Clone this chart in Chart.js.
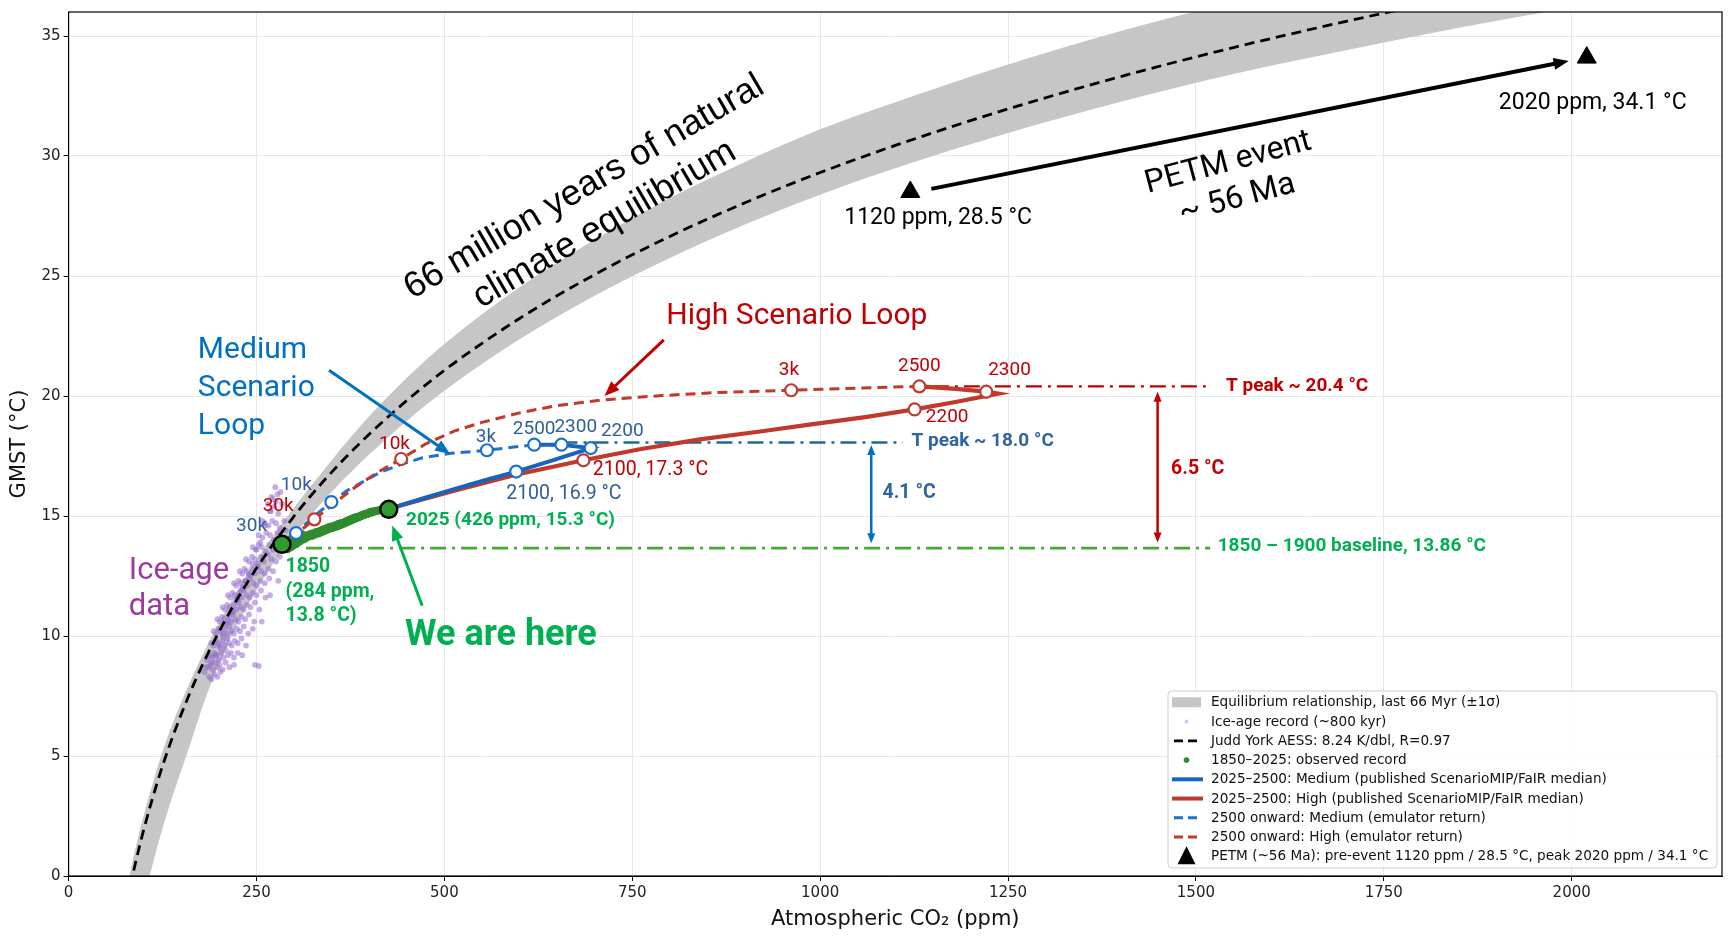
<!DOCTYPE html>
<html>
<head>
<meta charset="utf-8">
<script src="https://cdn.jsdelivr.net/npm/chart.js@4.4.1/dist/chart.umd.min.js"></script>
<style>
  html, body { margin: 0; padding: 0; background: #fff; }
  #wrap { width: 1734px; height: 940px; }
</style>
</head>
<body>
<div id="wrap"><canvas id="myChart" width="1734" height="940"></canvas></div>
<script>
// equilibrium band (last 66 Myr, +-1 sigma)
const bandCo2 = [80, 90, 100, 110, 125, 140, 160, 180, 200, 225, 250, 280, 320, 340, 360, 380, 400, 450, 500, 600, 700, 800, 900, 1000, 1100, 1250, 1400, 1550, 1700, 1850, 2000, 2200];
const bandUpper = [-0.12, 1.28, 2.53, 3.66, 5.19, 6.48, 7.97, 9.32, 10.52, 11.92, 13.17, 14.52, 16.16, 16.93, 17.71, 18.45, 19.16, 20.76, 22.17, 24.53, 26.51, 28.25, 29.75, 31.11, 32.24, 33.81, 35.21, 36.42, 37.56, 38.62, 39.54, 40.68];
const bandLower = [-3.72, -2.32, -1.02, 0.26, 1.99, 3.48, 5.32, 7.22, 8.82, 10.52, 11.92, 13.37, 14.96, 15.66, 16.34, 16.96, 17.56, 18.96, 20.22, 22.36, 24.18, 25.75, 27.15, 28.39, 29.49, 30.96, 32.26, 33.42, 34.41, 35.34, 36.19, 37.28];

// Judd York AESS line
const juddCo2 = [82, 90, 100, 110, 125, 140, 160, 180, 200, 225, 250, 280, 320, 360, 400, 450, 500, 600, 700, 800, 900, 1000, 1100, 1250, 1400, 1550, 1700, 1850];
const juddT = [-0.43, 0.68, 1.93, 3.06, 4.59, 5.93, 7.52, 8.92, 10.17, 11.57, 12.82, 14.17, 15.76, 17.16, 18.41, 19.81, 21.07, 23.23, 25.06, 26.65, 28.05, 29.31, 30.44, 31.96, 33.31, 34.52, 35.61, 36.62];

// ice-age record (~800 kyr)
const iceCo2 = [187, 190, 194, 198, 202,
  186, 189, 192, 195, 198, 201, 205, 209, 214, 220, 248,
  188, 191, 194, 197, 200, 203, 206, 209, 212, 216, 220, 225, 231,
  190, 193, 196, 199, 202, 205, 208, 211, 214, 217, 221, 225, 230, 236,
  193, 196, 199, 202, 205, 208, 211, 214, 217, 220, 224, 228, 233, 239, 245,
  198, 201, 204, 207, 210, 213, 216, 219, 222, 226, 230, 235, 240, 247, 257,
  205, 208, 211, 214, 217, 220, 223, 226, 229, 233, 237, 242, 248, 254,
  212, 215, 218, 221, 224, 227, 230, 233, 237, 241, 245, 250, 256, 262, 268,
  220, 223, 226, 229, 232, 235, 238, 242, 246, 250, 255, 261, 267, 279,
  228, 231, 234, 237, 240, 244, 248, 252, 256, 261, 266, 272,
  236, 240, 244, 248, 252, 256, 260, 265, 270, 276, 281,
  245, 249, 253, 257, 262, 267, 272, 277, 283, 288,
  253, 258, 263, 268, 273, 278, 284, 289,
  261, 266, 271, 276, 281, 287,
  269, 274, 279, 284, 272, 278, 282, 276,
  181, 183, 184, 190, 195, 200, 206, 212, 218, 225, 230, 235, 240, 245, 250, 255, 258, 262, 265, 268, 270, 275, 253];
const iceT = [8.3, 8.2, 8.4, 8.3, 8.5,
  8.7, 8.8, 8.6, 8.9, 8.7, 8.8, 8.6, 8.9, 8.7, 8.8, 8.8,
  9.2, 9.1, 9.3, 9.2, 9.0, 9.3, 9.1, 9.4, 9.2, 9.3, 9.1, 9.3, 9.2,
  9.7, 9.6, 9.8, 9.7, 9.5, 9.8, 9.6, 9.9, 9.7, 9.6, 9.8, 9.7, 9.9, 9.6,
  10.2, 10.1, 10.3, 10.2, 10.0, 10.3, 10.1, 10.4, 10.2, 10.1, 10.3, 10.2, 10.4, 10.1, 10.3,
  10.7, 10.6, 10.8, 10.7, 10.5, 10.8, 10.6, 10.9, 10.7, 10.6, 10.8, 10.7, 10.9, 10.6, 10.6,
  11.2, 11.1, 11.3, 11.2, 11.0, 11.3, 11.1, 11.4, 11.2, 11.1, 11.3, 11.2, 11.4, 11.1,
  11.7, 11.6, 11.8, 11.7, 11.5, 11.8, 11.6, 11.9, 11.7, 11.6, 11.8, 11.7, 11.9, 11.6, 11.7,
  12.2, 12.1, 12.3, 12.2, 12.0, 12.3, 12.1, 12.4, 12.2, 12.1, 12.3, 12.2, 12.4, 12.3,
  12.7, 12.6, 12.8, 12.7, 12.5, 12.8, 12.6, 12.9, 12.7, 12.6, 12.8, 12.7,
  13.2, 13.1, 13.3, 13.2, 13.0, 13.3, 13.1, 13.4, 13.2, 13.1, 13.3,
  13.7, 13.6, 13.8, 13.7, 13.5, 13.8, 13.6, 13.9, 13.7, 13.6,
  14.2, 14.1, 14.3, 14.2, 14.0, 14.3, 14.1, 14.4,
  14.7, 14.6, 14.8, 14.7, 14.5, 14.8,
  15.2, 15.4, 15.1, 15.5, 15.7, 15.9, 16.0, 15.6,
  8.5, 8.7, 9.0, 8.9, 9.2, 9.6, 10.1, 10.6, 11.0, 11.6, 11.9, 12.3, 12.6, 13.0, 13.6, 13.9, 14.8, 14.6, 15.5, 15.2, 15.8, 16.2, 8.75];

// 1850-2025 observed record
const obsCo2 = [285, 285.4, 285.8, 286.2, 286.6, 287, 287.4, 287.8, 288.2, 288.6, 289, 289.4, 289.8, 290.2, 290.6, 291, 291.4, 291.8, 292.2, 292.6, 293, 293.4, 293.8, 294.2, 294.6, 295, 295.4, 295.8, 296.2, 296.6, 297, 297.4, 297.8, 298.2, 298.6, 299, 299.4, 299.8, 300.2, 300.6, 301, 301.4, 301.8, 302.2, 302.6, 303, 303.5, 304, 304.5, 305, 305.5, 306, 306.5, 307, 307.5, 308, 308.5, 309, 310, 311,
  312, 313.5, 315, 316.5, 318, 319.5, 321, 322.5, 324, 325.5, 327, 328.5, 330, 331.5, 333, 334.5, 336, 337.5, 339, 340.5, 342, 343.5, 345, 346.5, 348, 349.5, 351, 352.5, 354, 355.5, 357, 358.5, 360, 361.5, 363, 364.5, 366, 367.5, 369, 370.5, 372, 373.5, 375, 376.5, 378, 379.5, 381, 382.5, 384, 385.5, 387, 388.5, 390, 391.5, 393, 394.5, 396, 397.5, 399, 400.5, 402, 403.5, 405, 406.5, 408, 409.5, 411, 412.5, 414, 415.5, 417, 418.5, 420, 421.5, 423, 424.5, 426];
const obsT = [13.75, 13.62, 13.90, 13.70, 13.58, 13.84, 13.96, 13.66, 13.78, 13.60, 13.92, 13.72, 13.86, 13.64, 14.00, 13.76, 13.58, 13.88, 13.70, 13.98, 13.80, 13.62, 13.94, 13.74, 14.06, 13.84, 13.66, 13.98, 13.78, 14.10, 13.88, 13.70, 14.02, 13.82, 14.14, 13.92, 13.74, 14.06, 13.86, 14.16, 13.96, 13.78, 14.08, 13.90, 14.20, 13.98, 13.80, 14.12, 13.94, 14.22, 14.02, 13.86, 14.16, 13.98, 14.26, 14.06, 13.92, 14.18, 14.04, 14.28,
  13.98, 14.16, 14.02, 14.22, 14.08, 14.26, 14.12, 14.30, 14.14, 14.32, 14.18, 14.36, 14.22, 14.38, 14.24, 14.42, 14.28, 14.46, 14.32, 14.50, 14.36, 14.54, 14.40, 14.58, 14.44, 14.60, 14.46, 14.62, 14.50, 14.66, 14.52, 14.70, 14.56, 14.74, 14.60, 14.76, 14.64, 14.80, 14.68, 14.84, 14.72, 14.88, 14.76, 14.92, 14.80, 14.96, 14.84, 15.00, 14.88, 15.02, 14.92, 15.06, 14.96, 15.10, 15.00, 15.12, 15.04, 15.16, 15.06, 15.20, 15.10, 15.22, 15.12, 15.24, 15.16, 15.26, 15.18, 15.28, 15.20, 15.30, 15.24, 15.32, 15.26, 15.34, 15.27, 15.32, 15.28];

// 2025-2500 published pathways
const medCo2 = [426, 470, 513, 555, 595.6, 645, 694.7, 655.8, 619.5];
const medT = [15.30, 15.72, 16.12, 16.50, 16.85, 17.33, 17.83, 17.97, 17.97];
const highCo2 = [426, 513, 595, 685, 760, 840, 920, 988, 1060, 1125.7, 1180, 1237, 1221, 1180, 1132];
const highT = [15.30, 16.05, 16.72, 17.32, 17.78, 18.19, 18.52, 18.82, 19.12, 19.44, 19.75, 20.10, 20.18, 20.30, 20.40];

// 2500 onward emulator return
const medRetCo2 = [619.5, 590, 556.6, 508.8, 470, 442.5, 415, 393.8, 370, 349.6, 325, 302.7, 288];
const medRetT = [17.97, 17.86, 17.74, 17.61, 17.42, 17.15, 16.83, 16.46, 16.05, 15.58, 14.95, 14.29, 13.90];
const highRetCo2 = [1132, 1050, 961.5, 867, 790, 712, 650, 601.8, 550, 513, 475, 442.5, 410, 380.5, 350, 327, 305, 288];
const highRetT = [20.40, 20.33, 20.24, 20.15, 20.02, 19.84, 19.60, 19.31, 18.90, 18.54, 18.00, 17.375, 16.80, 16.18, 15.45, 14.86, 14.30, 13.90];

// labelled years on each loop
const medMarkCo2 = [302.7, 349.6, 556.6, 619.5, 655.8, 694.7, 595.6];
const medMarkT = [14.29, 15.58, 17.74, 17.97, 17.97, 17.83, 16.85];
const highMarkCo2 = [327, 442.5, 961.5, 1132, 1221, 1125.7, 685];
const highMarkT = [14.86, 17.375, 20.24, 20.40, 20.18, 19.44, 17.32];

const endCo2 = [284, 426];
const endT = [13.82, 15.28];
const petmCo2 = [1120, 2020];
const petmT = [28.5, 34.1];

const medPeak = 18.06, highPeak = 20.40, baseT = 13.66;
const medPeakSpan = [655.8, 1110];
const highPeakSpan = [1150, 1519];
const baseSpan = [316, 1519];

const xTicks = [0, 250, 500, 750, 1000, 1250, 1500, 1750, 2000];
const yTicks = [0, 5, 10, 15, 20, 25, 30, 35];

function pts(xs, ys) { return xs.map((v, i) => ({ x: v, y: ys[i] })); }

const AX = '"DejaVu Sans", sans-serif';
const AN = 'Roboto, "Noto Sans", sans-serif';
const BLUE = '#1565c0', RED = '#c0392b', GREEN = '#00b050';

// annotation texts, anchored in data units
const texts = [
  { t: '66 million years of natural', x: 686, y: 28.7, c: '#000', f: '36px "Liberation Sans", Arial, sans-serif', al: 'center', rot: -30.4 },
  { t: 'climate equilibrium', x: 713, y: 27.15, c: '#000', f: '36px "Liberation Sans", Arial, sans-serif', al: 'center', rot: -30.4 },
  { t: 'PETM event', x: 1543, y: 29.7, c: '#000', f: '32px ' + AN, al: 'center', rot: -15 },
  { t: '~ 56 Ma', x: 1555, y: 28.2, c: '#000', f: '32px ' + AN, al: 'center', rot: -15 },
  { t: '1120 ppm, 28.5 °C', x: 1157, y: 27.4, c: '#000', f: '23px ' + AN, al: 'center' },
  { t: '2020 ppm, 34.1 °C', x: 2028, y: 32.2, c: '#000', f: '23px ' + AN, al: 'center' },
  { t: 'High Scenario Loop', x: 969, y: 23.3, c: '#c00000', f: '30px ' + AN, al: 'center' },
  { t: 'Medium', x: 172, y: 21.9, c: '#0070c0', f: '30px ' + AN, al: 'left' },
  { t: 'Scenario', x: 172, y: 20.32, c: '#0070c0', f: '30px ' + AN, al: 'left' },
  { t: 'Loop', x: 172, y: 18.75, c: '#0070c0', f: '30px ' + AN, al: 'left' },
  { t: 'Ice-age', x: 80, y: 12.7, c: '#9b3b9b', f: '31px ' + AN, al: 'left' },
  { t: 'data', x: 80, y: 11.18, c: '#9b3b9b', f: '31px ' + AN, al: 'left' },
  { t: '1850', x: 288.6, y: 12.85, c: GREEN, f: 'bold 19.5px ' + AN, al: 'left' },
  { t: '(284 ppm,', x: 288.6, y: 11.83, c: GREEN, f: 'bold 19.5px ' + AN, al: 'left' },
  { t: '13.8 °C)', x: 288.6, y: 10.83, c: GREEN, f: 'bold 19.5px ' + AN, al: 'left' },
  { t: '2025 (426 ppm, 15.3 °C)', x: 449, y: 14.82, c: GREEN, f: 'bold 19px ' + AN, al: 'left' },
  { t: 'We are here', x: 447.7, y: 9.98, c: GREEN, f: 'bold 36px ' + AN, al: 'left' },
  { t: 'T peak ~ 20.4 °C', x: 1540, y: 20.42, c: '#c00000', f: 'bold 19px ' + AN, al: 'left' },
  { t: 'T peak ~ 18.0 °C', x: 1121.6, y: 18.1, c: '#2e64a0', f: 'bold 19px ' + AN, al: 'left' },
  { t: '4.1 °C', x: 1083, y: 15.97, c: '#2e64a0', f: 'bold 19.5px ' + AN, al: 'left' },
  { t: '6.5 °C', x: 1467, y: 16.97, c: '#c00000', f: 'bold 19.5px ' + AN, al: 'left' },
  { t: '1850 – 1900 baseline, 13.86 °C', x: 1529, y: 13.75, c: GREEN, f: 'bold 19px ' + AN, al: 'left' },
  // loop year labels
  { t: '30k', x: 243.4, y: 14.58, c: '#2f5f9a', f: '19px ' + AN, al: 'center' },
  { t: '10k', x: 303, y: 16.29, c: '#2f5f9a', f: '19px ' + AN, al: 'center' },
  { t: '3k', x: 555.3, y: 18.29, c: '#2f5f9a', f: '19px ' + AN, al: 'center' },
  { t: '2500', x: 619.5, y: 18.61, c: '#2f5f9a', f: '19px ' + AN, al: 'center' },
  { t: '2300', x: 674.8, y: 18.68, c: '#2f5f9a', f: '19px ' + AN, al: 'center' },
  { t: '2200', x: 736.7, y: 18.54, c: '#2f5f9a', f: '19px ' + AN, al: 'center' },
  { t: '2100, 16.9 °C', x: 659, y: 15.93, c: '#2f5f9a', f: '19.5px ' + AN, al: 'center' },
  { t: '30k', x: 278.8, y: 15.42, c: '#c00000', f: '19px ' + AN, al: 'center' },
  { t: '10k', x: 433.6, y: 18.01, c: '#c00000', f: '19px ' + AN, al: 'center' },
  { t: '3k', x: 958.5, y: 21.07, c: '#c00000', f: '19px ' + AN, al: 'center' },
  { t: '2500', x: 1132, y: 21.25, c: '#c00000', f: '19px ' + AN, al: 'center' },
  { t: '2300', x: 1252, y: 21.07, c: '#c00000', f: '19px ' + AN, al: 'center' },
  { t: '2200', x: 1169, y: 19.1, c: '#c00000', f: '19px ' + AN, al: 'center' },
  { t: '2100, 17.3 °C', x: 774.3, y: 16.9, c: '#c00000', f: '19.5px ' + AN, al: 'center' }
];

// arrows, anchored in data units: [x1, y1, x2, y2, colour, width, head, both ends]
const arrows = [
  [346.5, 21.07, 507.6, 17.58, '#0070c0', 3, 15, false],
  [792, 22.34, 713, 20.0, '#c00000', 3, 15, false],
  [470.5, 11.26, 430.7, 14.6, '#00b050', 3, 15, false],
  [1148, 28.63, 1996, 33.96, '#000', 4, 15, false],
  [1068, 13.86, 1068, 17.96, '#0070c0', 2.5, 10, true],
  [1449, 13.9, 1449, 20.18, '#c00000', 2.5, 10, true]
];

const legendRows = [
  ['patch', 'Equilibrium relationship, last 66 Myr (±1σ)'],
  ['ice', 'Ice-age record (~800 kyr)'],
  ['judd', 'Judd York AESS: 8.24 K/dbl, R=0.97'],
  ['obs', '1850–2025: observed record'],
  ['med', '2025–2500: Medium (published ScenarioMIP/FaIR median)'],
  ['high', '2025–2500: High (published ScenarioMIP/FaIR median)'],
  ['medRet', '2500 onward: Medium (emulator return)'],
  ['highRet', '2500 onward: High (emulator return)'],
  ['petm', 'PETM (~56 Ma): pre-event 1120 ppm / 28.5 °C, peak 2020 ppm / 34.1 °C']
];

function drawArrow(ctx, x1, y1, x2, y2, color, lw, head, both) {
  const a = Math.atan2(y2 - y1, x2 - x1);
  const tip = (x, y, ang) => {
    ctx.beginPath();
    ctx.moveTo(x, y);
    ctx.lineTo(x - head * Math.cos(ang) + head * 0.4 * Math.sin(ang), y - head * Math.sin(ang) - head * 0.4 * Math.cos(ang));
    ctx.lineTo(x - head * Math.cos(ang) - head * 0.4 * Math.sin(ang), y - head * Math.sin(ang) + head * 0.4 * Math.cos(ang));
    ctx.closePath();
    ctx.fill();
  };
  ctx.save();
  ctx.strokeStyle = color;
  ctx.fillStyle = color;
  ctx.lineWidth = lw;
  ctx.lineCap = 'butt';
  const sx = both ? x1 + Math.cos(a) * head * 0.8 : x1;
  const sy = both ? y1 + Math.sin(a) * head * 0.8 : y1;
  ctx.beginPath();
  ctx.moveTo(sx, sy);
  ctx.lineTo(x2 - Math.cos(a) * head * 0.8, y2 - Math.sin(a) * head * 0.8);
  ctx.stroke();
  tip(x2, y2, a);
  if (both) tip(x1, y1, a + Math.PI);
  ctx.restore();
}

function drawLegend(ctx) {
  const bx = 1168, by = 691, bw = 549, bh = 177, rowH = 19.25;
  ctx.save();
  ctx.beginPath();
  ctx.roundRect(bx, by, bw, bh, 4);
  ctx.fillStyle = 'rgba(255,255,255,0.85)';
  ctx.fill();
  ctx.strokeStyle = '#cccccc';
  ctx.lineWidth = 1;
  ctx.stroke();
  ctx.font = '13.6px ' + AX;
  ctx.textBaseline = 'middle';
  legendRows.forEach((r, i) => {
    const cy = by + 11.3 + i * rowH;
    const hx0 = 1172, hx1 = 1201, hc = 1186.5;
    ctx.setLineDash([]);
    if (r[0] === 'patch') {
      ctx.fillStyle = '#c6c6c6';
      ctx.fillRect(hx0, cy - 5, hx1 - hx0, 10);
    } else if (r[0] === 'ice' || r[0] === 'obs') {
      ctx.fillStyle = r[0] === 'ice' ? 'rgba(170,135,215,0.5)' : '#2e8b2e';
      ctx.beginPath();
      ctx.arc(hc, cy, r[0] === 'ice' ? 2 : 2.8, 0, Math.PI * 2);
      ctx.fill();
    } else if (r[0] === 'petm') {
      ctx.fillStyle = '#000';
      ctx.beginPath();
      ctx.moveTo(hc, cy - 10);
      ctx.lineTo(hc + 9, cy + 8);
      ctx.lineTo(hc - 9, cy + 8);
      ctx.closePath();
      ctx.fill();
    } else {
      const st = {
        judd: ['#000', 2.8, [9, 5]],
        med: [BLUE, 4, []],
        high: [RED, 4, []],
        medRet: ['#1f6fcf', 3, [9, 5]],
        highRet: [RED, 3, [9, 5]]
      }[r[0]];
      ctx.strokeStyle = st[0];
      ctx.lineWidth = st[1];
      ctx.setLineDash(st[2]);
      ctx.beginPath();
      ctx.moveTo(hx0 + (st[2].length ? 2 : 0), cy);
      ctx.lineTo(hx1 + (st[2].length ? 0 : 2), cy);
      ctx.stroke();
    }
    ctx.setLineDash([]);
    ctx.fillStyle = '#111';
    ctx.fillText(r[1], 1211, cy + 0.5);
  });
  ctx.restore();
}

const annot = {
  id: 'annot',
  afterDatasetsDraw(chart) {
    const ctx = chart.ctx, sx = chart.scales.x, sy = chart.scales.y;
    const X = v => sx.getPixelForValue(v), Y = v => sy.getPixelForValue(v);
    const a = chart.chartArea;
    ctx.save();
    ctx.strokeStyle = '#000';
    ctx.lineWidth = 1.2;
    ctx.strokeRect(a.left, a.top, a.right - a.left, a.bottom - a.top);
    ctx.restore();

    arrows.forEach(r => drawArrow(ctx, X(r[0]), Y(r[1]), X(r[2]), Y(r[3]), r[4], r[5], r[6], r[7]));

    texts.forEach(o => {
      ctx.save();
      ctx.font = o.f;
      ctx.fillStyle = o.c;
      ctx.textAlign = o.al;
      ctx.textBaseline = 'middle';
      ctx.translate(X(o.x), Y(o.y));
      if (o.rot) ctx.rotate(o.rot * Math.PI / 180);
      ctx.fillText(o.t, 0, 0);
      ctx.restore();
    });

    drawLegend(ctx);
  }
};

const line = (data, color, width, dash, order) => ({
  data, showLine: true, borderColor: color, borderWidth: width, borderDash: dash,
  pointRadius: 0, tension: 0, fill: false, order
});

const myChart = document.getElementById('myChart').getContext('2d');
const loopChart = new Chart(myChart, {
  type: 'scatter',
  data: {
    datasets: [
      { data: pts(bandCo2, bandUpper), showLine: true, borderWidth: 0, borderColor: 'rgba(0,0,0,0)', pointRadius: 0, fill: '+1', backgroundColor: '#c6c6c6', cubicInterpolationMode: 'monotone', order: 30 },
      { data: pts(bandCo2, bandLower), showLine: true, borderWidth: 0, borderColor: 'rgba(0,0,0,0)', pointRadius: 0, fill: false, cubicInterpolationMode: 'monotone', order: 29 },
      { data: pts(iceCo2, iceT), pointRadius: 2.9, backgroundColor: 'rgba(150,108,210,0.55)', borderWidth: 0, order: 28 },
      Object.assign(line(pts(juddCo2, juddT), '#000', 2.8, [10, 6], 27), { cubicInterpolationMode: 'monotone' }),
      line(pts(baseSpan, [baseT, baseT]), '#44aa33', 2.6, [16, 6, 3, 6], 26),
      line(pts(medPeakSpan, [medPeak, medPeak]), '#1f6a8f', 2.4, [16, 6, 3, 6], 25),
      line(pts(highPeakSpan, [highPeak, highPeak]), '#c00000', 2.4, [16, 6, 3, 6], 24),
      line(pts(medRetCo2, medRetT), '#1f6fcf', 3, [10, 6], 23),
      line(pts(highRetCo2, highRetT), RED, 3, [10, 6], 22),
      { data: pts(obsCo2, obsT), pointRadius: 3.1, backgroundColor: '#2e8b2e', borderWidth: 0, order: 21 },
      line(pts(highCo2, highT), RED, 4.2, [], 20),
      line(pts(medCo2, medT), BLUE, 4, [], 19),
      { data: pts(medMarkCo2, medMarkT), pointRadius: 6, backgroundColor: '#fff', borderColor: '#1a6fd0', borderWidth: 2.2, order: 10 },
      { data: pts(highMarkCo2, highMarkT), pointRadius: 6, backgroundColor: '#fff', borderColor: RED, borderWidth: 2.2, order: 9 },
      { data: pts(endCo2, endT), pointRadius: 8.5, backgroundColor: '#2f9a2f', borderColor: '#000', borderWidth: 2.5, order: 8 },
      { data: pts(petmCo2, petmT), pointStyle: 'triangle', pointRadius: 11, backgroundColor: '#000', borderColor: '#000', borderWidth: 1, order: 7 }
    ]
  },
  options: {
    responsive: false,
    animation: false,
    devicePixelRatio: 1,
    layout: { padding: { left: 0, right: 12, top: 11, bottom: 0 } },
    plugins: { legend: { display: false }, tooltip: { enabled: false }, title: { display: false } },
    scales: {
      x: {
        type: 'linear', min: 0, max: 2200,
        afterBuildTicks: s => { s.ticks = xTicks.map(v => ({ value: v })); },
        afterFit: s => { s.height = 64; },
        ticks: { font: { family: AX, size: 15 }, color: '#222', padding: 3, callback: v => String(v) },
        grid: { color: '#e8e8e8', lineWidth: 1, tickColor: '#000', tickLength: 5, drawOnChartArea: true },
        border: { display: true, color: '#000', width: 1 },
        title: { display: true, text: 'Atmospheric CO₂ (ppm)', font: { family: AX, size: 21 }, color: '#111', padding: { top: 8, bottom: 8 } }
      },
      y: {
        type: 'linear', min: 0, max: 36,
        afterBuildTicks: s => { s.ticks = yTicks.map(v => ({ value: v })); },
        afterFit: s => { s.width = 68.6; },
        ticks: { font: { family: AX, size: 15 }, color: '#222', padding: 3, callback: v => String(v) },
        grid: { color: '#e8e8e8', lineWidth: 1, tickColor: '#000', tickLength: 5 },
        border: { display: true, color: '#000', width: 1 },
        title: { display: true, text: 'GMST (°C)', font: { family: AX, size: 21 }, color: '#111', padding: { top: 7, bottom: 7 } }
      }
    }
  },
  plugins: [annot]
});
</script>
</body>
</html>
